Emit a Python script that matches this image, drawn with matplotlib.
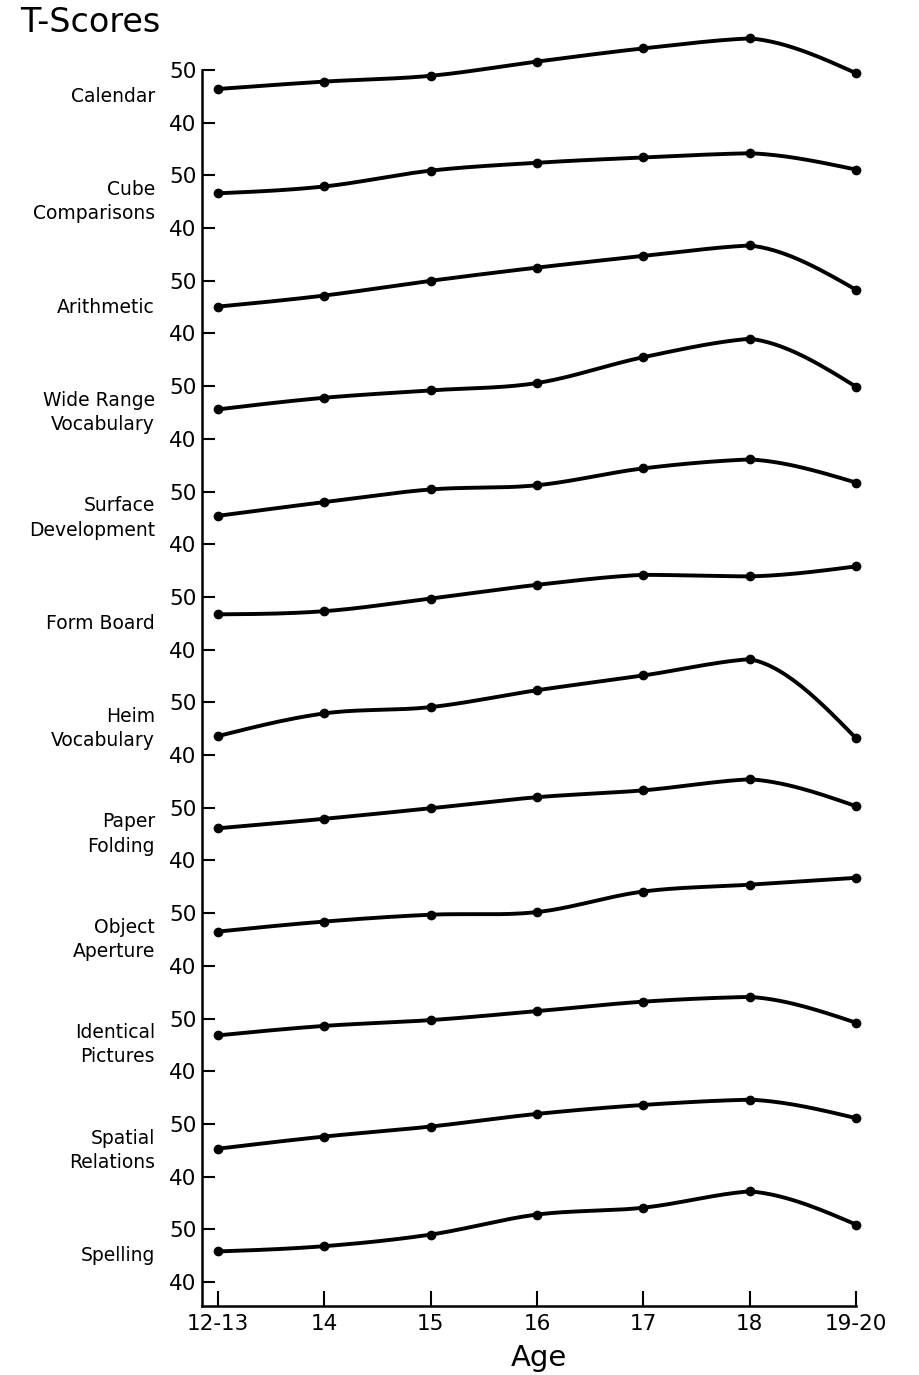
import numpy as np
import matplotlib.pyplot as plt
from matplotlib.transforms import blended_transform_factory


# Age groups along the x axis
ages = ['12-13', '14', '15', '16', '17', '18', '19-20']

# Test names, top to bottom
tests = ['Calendar', 'Cube\nComparisons', 'Arithmetic', 'Wide Range\nVocabulary',
         'Surface\nDevelopment', 'Form Board', 'Heim\nVocabulary', 'Paper\nFolding',
         'Object\nAperture', 'Identical\nPictures', 'Spatial\nRelations', 'Spelling']

# Mean T-scores per age group for each test
calendar = [46.4, 47.8, 48.9, 51.6, 54.1, 56.0, 49.4]
cube_comparisons = [46.6, 47.9, 50.9, 52.4, 53.4, 54.2, 51.1]
arithmetic = [45.1, 47.2, 50.0, 52.5, 54.7, 56.7, 48.3]
wide_range_vocab = [45.6, 47.8, 49.2, 50.6, 55.5, 59.0, 49.9]
surface_development = [45.4, 48.0, 50.4, 51.2, 54.4, 56.1, 51.7]
form_board = [46.7, 47.3, 49.7, 52.3, 54.2, 53.9, 55.8]
heim_vocab = [43.6, 47.9, 49.1, 52.3, 55.1, 58.2, 43.2]
paper_folding = [46.1, 47.9, 49.9, 52.0, 53.3, 55.4, 50.3]
object_aperture = [46.5, 48.4, 49.7, 50.2, 54.1, 55.4, 56.7]
identical_pictures = [46.8, 48.6, 49.7, 51.4, 53.2, 54.1, 49.2]
spatial_relations = [45.3, 47.6, 49.5, 51.9, 53.6, 54.6, 51.1]
spelling = [45.8, 46.8, 49.0, 52.8, 54.1, 57.2, 50.9]

scores = [calendar, cube_comparisons, arithmetic, wide_range_vocab,
          surface_development, form_board, heim_vocab, paper_folding,
          object_aperture, identical_pictures, spatial_relations, spelling]

# Each test gets its own 20-point band on one shared vertical scale
band = 20


# Hand-drawn looking curve through the points: cubic Hermite segments,
# Catmull-Rom tangents, with a slight kink at peaks and troughs
def smooth(x, y, n=30):
    x = np.asarray(x, float)
    y = np.asarray(y, float)
    d = np.diff(y) / np.diff(x)
    npts = len(x)
    m_in = np.zeros(npts)
    m_out = np.zeros(npts)
    for i in range(1, npts - 1):
        if d[i - 1] * d[i] < 0:
            m_in[i] = 0.5 * d[i - 1]
            m_out[i] = 0.25 * d[i]
        else:
            m_in[i] = m_out[i] = 0.5 * (d[i - 1] + d[i])
    m_out[0] = (3 * d[0] - m_in[1]) / 2
    m_in[-1] = (3 * d[-1] - m_out[-2]) / 2

    xs, ys = [], []
    for i in range(npts - 1):
        h = x[i + 1] - x[i]
        t = np.linspace(0, 1, n)
        h00 = 2 * t**3 - 3 * t**2 + 1
        h10 = t**3 - 2 * t**2 + t
        h01 = -2 * t**3 + 3 * t**2
        h11 = t**3 - t**2
        xs.append(x[i] + t * h)
        ys.append(h00 * y[i] + h10 * h * m_out[i] + h01 * y[i + 1] + h11 * h * m_in[i + 1])
    return np.concatenate(xs), np.concatenate(ys)


def main():
    W, H = 919, 1375
    fig = plt.figure(figsize=(W / 100, H / 100), dpi=100)
    plt.rcParams['font.family'] = 'DejaVu Sans'

    left, right, top, bottom = 202, 856, 70, 1306
    ax = fig.add_axes([left / W, 1 - bottom / H, (right - left) / W, (bottom - top) / H])

    x = np.arange(len(ages))
    for k, s in enumerate(scores):
        off = -band * k
        xs, ys = smooth(x, s)
        ax.plot(xs, ys + off, color='black', lw=2.8, solid_capstyle='round', clip_on=False)
        ax.plot(x, np.array(s) + off, 'o', color='black', ms=6, clip_on=False)

    # y ticks: 50 and 40 for each band
    yt, yl = [], []
    for k in range(len(tests)):
        yt += [50 - band * k, 40 - band * k]
        yl += ['50', '40']
    ax.set_yticks(yt)
    ax.set_yticklabels(yl)
    ax.set_xticks(x)
    ax.set_xticklabels(ages)

    ppu = (1282 - 70) / (10 + band * (len(tests) - 1))
    ax.set_ylim(40 - band * (len(tests) - 1) - (bottom - 1282) / ppu, 50)
    ax.set_xlim(-(218 - left) / ((right - 218) / 6), 6)

    for sp in ['top', 'right']:
        ax.spines[sp].set_visible(False)
    for sp in ['left', 'bottom']:
        ax.spines[sp].set_linewidth(1.8)
    ax.tick_params(axis='y', direction='in', length=9.5, width=1.5, pad=4, labelsize=15.5)
    ax.tick_params(axis='x', direction='in', length=11, width=1.5, pad=6, labelsize=15.5)

    # Test names to the left of the axis
    trans = blended_transform_factory(fig.transFigure, ax.transData)
    for k, name in enumerate(tests):
        ax.text(155 / W, 45 - band * k, name, transform=trans, ha='right', va='center',
                multialignment='right', fontsize=13.5, linespacing=1.35)

    fig.text(20 / W, 1 - 32 / H, 'T-Scores', fontsize=24, ha='left', va='baseline')
    fig.text(539 / W, 1 - 1366 / H, 'Age', fontsize=21, ha='center', va='baseline')

    fig.savefig('out.png', dpi=100)


main()
